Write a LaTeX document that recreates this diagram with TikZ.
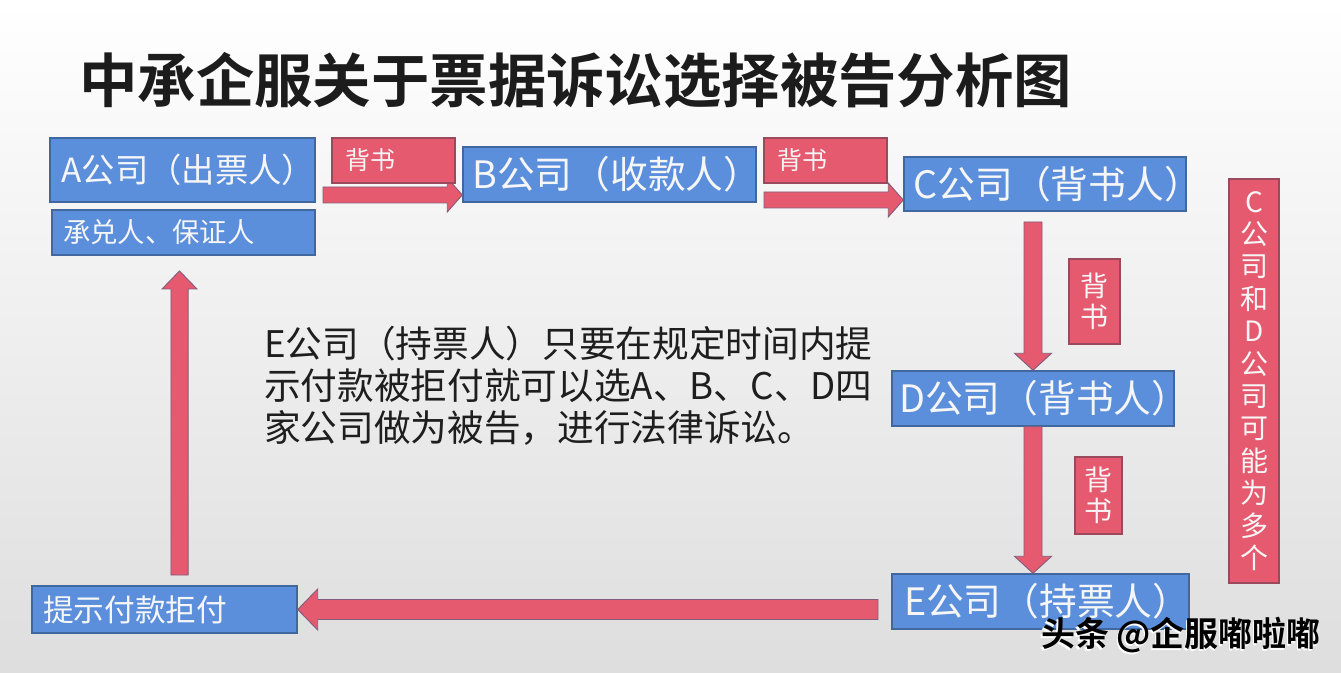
\documentclass[tikz,border=0pt]{standalone}
\usepackage{fontspec}
\setmainfont{Noto Sans CJK SC}[BoldFont={Noto Sans CJK SC Bold}]
\usetikzlibrary{calc}
\definecolor{boxblue}{HTML}{5B8FDC}
\definecolor{boxblueline}{HTML}{41689E}
\definecolor{arrred}{HTML}{E65A6F}
\definecolor{arrline}{HTML}{845C7C}
\definecolor{lblline}{HTML}{9A4A5C}
\definecolor{txtwhite}{HTML}{F6F6F6}
\definecolor{titleblack}{HTML}{1C1C1C}
\definecolor{bodyblack}{HTML}{1E1E1E}
\newcommand\blockarrow[5]{% start, tip, shaft half, head half, head length
  \coordinate (ba-h) at ($(#2)!#5!(#1)$);
  \filldraw[arrowbody] ($(#1)!#3!90:(#2)$) -- ($(ba-h)!#3!90:(#2)$) -- ($(ba-h)!#4!90:(#2)$) -- (#2)
    -- ($(ba-h)!#4!-90:(#2)$) -- ($(ba-h)!#3!-90:(#2)$) -- ($(#1)!#3!-90:(#2)$) -- cycle;
}
\newcommand\ctext[2]{\makebox[0pt][c]{\hspace{#1}#2}}
\tikzset{
  arrowbody/.style={fill=arrred, draw=arrline, line width=0.7pt, line join=miter},
  bluebox/.style={draw=boxblueline, line width=1.1pt, fill=boxblue, text=txtwhite, inner sep=0pt},
  redlabel/.style={draw=lblline, line width=1pt, fill=arrred, text=txtwhite, inner sep=0pt},
  bigtxt/.style={font=\fontsize{28.3}{32}\selectfont},
  hlabel/.style={redlabel, minimum width=92.25pt, minimum height=33.75pt, text width=72.75pt, align=left, font=\fontsize{18.75}{21}\selectfont},
  vlabel/.style={redlabel, align=center, font=\fontsize{21}{23.25}\selectfont},
}
\begin{document}
\begin{tikzpicture}[x=0.75pt, y=-0.75pt]
\useasboundingbox (0,0) rectangle (1341,673);
\shade[top color=white, bottom color=gray!26] (0,0) rectangle (1341,673);

% title
\node[anchor=west, inner sep=0pt, text=titleblack, font=\bfseries\fontsize{43.8}{48}\selectfont] (title) at (79,80) {中承企服关于票据诉讼选择被告分析图};

% boxes
\node[bluebox, minimum width=198.75pt, minimum height=48pt, font=\fontsize{25}{28}\selectfont] (A) at (182.5,170) {\ctext{9pt}{A公司（出票人）}};
\node[bluebox, minimum width=197.25pt, minimum height=33.75pt, text width=180.75pt, align=left, font=\fontsize{20.5}{23}\selectfont] (G) at (183.5,232.5) {承兑人、保证人};
\node[bluebox, bigtxt, minimum width=219.75pt, minimum height=41.25pt] (B) at (609.5,174.5) {\ctext{11pt}{B公司（收款人）}};
\node[bluebox, bigtxt, minimum width=211.5pt, minimum height=40.5pt] (C) at (1045,184) {\ctext{19pt}{C公司（背书人）}};
\node[bluebox, bigtxt, minimum width=211.5pt, minimum height=41.25pt] (D) at (1033,398.5) {\ctext{17pt}{D公司（背书人）}};
\node[bluebox, bigtxt, minimum width=222.75pt, minimum height=41.25pt] (E) at (1040.5,601.5) {\ctext{10pt}{E公司（持票人）}};
\node[bluebox, minimum width=198.75pt, minimum height=35.25pt, text width=182.25pt, align=left, font=\fontsize{23}{25}\selectfont] (P) at (164.5,609.5) {提示付款拒付};

% connectors
\coordinate (ab1) at (323,195);
\coordinate (ab2) at (B.west |- ab1);
\coordinate (bc1) at (764,200);
\coordinate (bc2) at (C.west |- bc1);
\coordinate (cd1) at (1033,222);
\coordinate (de2) at (D.south |- E.north);
\coordinate (ep1) at (878,609.5);
\coordinate (pa1) at (179.5,575);
\coordinate (pa2) at (179.5,271);
\blockarrow{ab1}{ab2}{6pt}{12.75pt}{11.25pt}
\blockarrow{bc1}{bc2}{6pt}{12.75pt}{11.25pt}
\blockarrow{cd1}{D.north}{6.75pt}{13.9pt}{12.75pt}
\blockarrow{D.south}{de2}{6.75pt}{13.9pt}{12.75pt}
\blockarrow{ep1}{P.east}{7.5pt}{15.4pt}{15pt}
\blockarrow{pa1}{pa2}{6.4pt}{13.1pt}{13.5pt}

% red labels
\node[hlabel] (L1) at (393.5,160.5) {\raisebox{2pt}{背书}};
\node[hlabel] (L2) at (825.5,160.5) {\raisebox{2pt}{背书}};
\node[vlabel, minimum width=38.25pt, minimum height=63.75pt] (L3) at (1094.5,301.5) {背\\书};
\node[vlabel, minimum width=35.25pt, minimum height=57.75pt] (L4) at (1098.5,495.5) {背\\书};
\node[redlabel, minimum width=37.5pt, minimum height=303pt, align=center, font=\fontsize{21}{24.3}\selectfont] (R) at (1254,381) {C\\公\\司\\和\\D\\公\\司\\可\\能\\为\\多\\个};

% paragraph
\node[anchor=north west, inner sep=0pt, align=left, text=bodyblack, font=\fontsize{27.5}{31.5}\selectfont] (note) at (264,326) {E公司（持票人）只要在规定时间内提\\示付款被拒付就可以选A、B、C、D四\\家公司做为被告，进行法律诉讼。};

% watermark
\node[inner sep=0pt, text=white, font=\bfseries\fontsize{25.5}{28}\selectfont] (wmshadow) at (1179.5,637.5) {头条 @企服嘟啦嘟};
\node[inner sep=0pt, text=black, font=\bfseries\fontsize{25.5}{28}\selectfont] (wm) at (1181,635.5) {头条 @企服嘟啦嘟};
\end{tikzpicture}
\end{document}
